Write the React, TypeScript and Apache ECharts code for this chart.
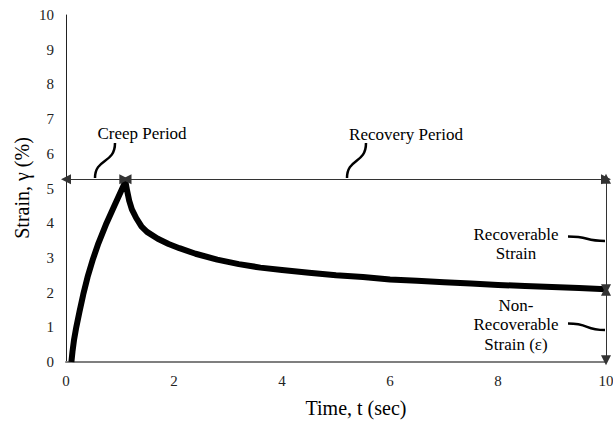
import React, { useEffect, useRef } from "react";
import * as echarts from "echarts";

// Creep-recovery curve (time in sec, strain in %)
const timeSec = [0.1, 0.12, 0.15, 0.19, 0.25, 0.32, 0.4, 0.5, 0.6, 0.75, 0.9, 1.05, 1.1, 1.13, 1.17, 1.22, 1.3, 1.4, 1.5, 1.7, 1.9, 2.1, 2.4, 2.8, 3.2, 3.6, 4.0, 4.5, 5.0, 5.5, 6.0, 6.5, 7.0, 7.5, 8.0, 8.5, 9.0, 9.5, 10];
const strainPct = [0, 0.3, 0.65, 1.0, 1.45, 1.95, 2.45, 2.97, 3.42, 4.0, 4.52, 5.03, 5.2, 4.95, 4.65, 4.4, 4.15, 3.9, 3.75, 3.55, 3.4, 3.28, 3.12, 2.95, 2.82, 2.72, 2.65, 2.57, 2.5, 2.45, 2.38, 2.34, 2.3, 2.26, 2.22, 2.19, 2.16, 2.13, 2.1];

// Axes
const xMin = 0, xMax = 10, xStep = 2;
const yMin = 0, yMax = 10, yStep = 1;

// Annotation arrows (data units)
const periodLevel = 5.27;
const creepStart = 0, creepEnd = 1.08;
const recoveryStart = 1.12, recoveryEnd = 10;
const strainAxisTime = 10;
const recoverableTop = 5.28, recoverableBottom = 2.1;
const nonRecoverableTop = 2.05, nonRecoverableBottom = 0.05;

// Annotation texts
const creepLabel = "Creep Period";
const recoveryLabel = "Recovery Period";
const recoverableLines = ["Recoverable", "Strain"];
const nonRecoverableLines = ["Non-", "Recoverable", "Strain (ε)"];
const xName = "Time, t (sec)";
const yName = "Strain, γ (%)";

export default function App() {
  const ref = useRef<HTMLDivElement>(null);
  useEffect(() => {
    const chart = echarts.init(ref.current!, null, { renderer: "svg" });
    const ff = "Liberation Serif";
    const txt = (text: string, x: number, y: number, size = 17, extra: any = {}) => ({
      type: "text",
      x,
      y,
      silent: true,
      ...extra,
      style: { text, fill: "#000", fontSize: size, fontFamily: ff, align: "center", verticalAlign: "middle" },
    });
    const curl = (x1: number, y1: number, cx1: number, cy1: number, cx2: number, cy2: number, x2: number, y2: number) => ({
      type: "bezierCurve",
      silent: true,
      shape: { x1, y1, cpx1: cx1, cpy1: cy1, cpx2: cx2, cpy2: cy2, x2, y2 },
      style: { stroke: "#000", lineWidth: 2.5, fill: null },
    });
    const seg = (a: number[], b: number[]) => [{ coord: a }, { coord: b }];

    const graphics: any[] = [
      txt(xName, 356, 408, 20),
      txt(yName, 22, 188, 20, { rotation: Math.PI / 2 }),
      txt(creepLabel, 142, 133),
      txt(recoveryLabel, 406, 134),
      ...recoverableLines.map((t, i) => txt(t, 516, 234 + i * 19.5)),
      ...nonRecoverableLines.map((t, i) => txt(t, 516, 305 + i * 19.5)),
      curl(95, 178, 95, 158, 115, 164, 115, 143),
      curl(347, 178, 347, 158, 366, 164, 366, 143),
      curl(568, 236.5, 590, 236.5, 584, 241, 605, 241),
      curl(568, 323.5, 590, 323.5, 584, 330, 605, 330),
    ];

    chart.setOption({
      animation: false,
      backgroundColor: "#fff",
      textStyle: { fontFamily: ff },
      grid: { left: 66, right: 7, top: 15, bottom: 62, outerBoundsMode: "none", containLabel: false },
      xAxis: {
        type: "value",
        min: xMin,
        max: xMax,
        interval: xStep,
        axisLine: { show: true, onZero: false, lineStyle: { color: "#7f7f7f", width: 2 } },
        axisTick: { show: false },
        splitLine: { show: false },
        axisLabel: { color: "#222", fontSize: 15, fontFamily: ff, margin: 11 },
      },
      yAxis: {
        type: "value",
        min: yMin,
        max: yMax,
        interval: yStep,
        axisLine: { show: true, lineStyle: { color: "#222", width: 1 } },
        axisTick: { show: false },
        splitLine: { show: false },
        axisLabel: { color: "#222", fontSize: 15, fontFamily: ff, margin: 12 },
      },
      series: [
        {
          type: "line",
          data: timeSec.map((t, i) => [t, strainPct[i]]),
          symbol: "none",
          clip: false,
          lineStyle: { color: "#000", width: 6, join: "round", cap: "butt" },
          silent: true,
          markLine: {
            silent: true,
            symbol: ["triangle", "triangle"],
            symbolSize: 10,
            label: { show: false },
            lineStyle: { color: "#333", width: 1, type: "solid" },
            emphasis: { disabled: true },
            data: [
              seg([creepStart, periodLevel], [creepEnd, periodLevel]),
              seg([recoveryStart, periodLevel], [recoveryEnd, periodLevel]),
              seg([strainAxisTime, recoverableTop], [strainAxisTime, recoverableBottom]),
              seg([strainAxisTime, nonRecoverableTop], [strainAxisTime, nonRecoverableBottom]),
            ],
          },
        },
      ],
      graphic: graphics,
    });
    return () => chart.dispose();
  }, []);
  return <div ref={ref} style={{ position: "absolute", left: 0, top: 0, width: 613, height: 424 }} />;
}
